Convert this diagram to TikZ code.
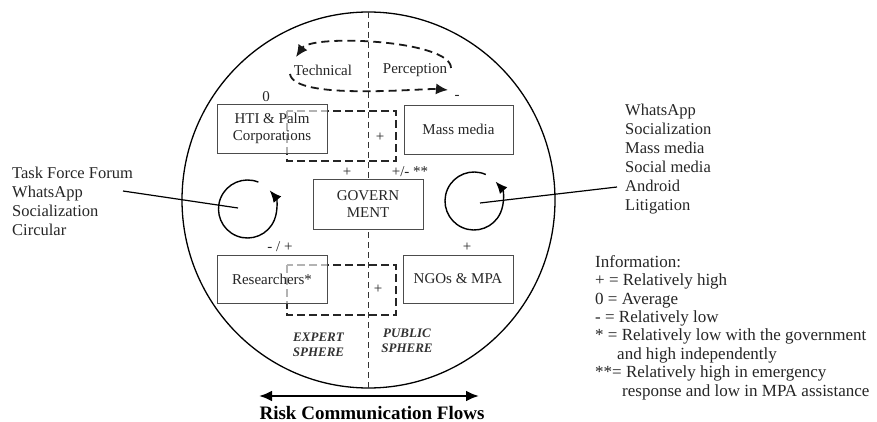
\documentclass[tikz,border=0pt]{standalone}
\usepackage{fontspec}
\setmainfont{Liberation Serif}
\usetikzlibrary{arrows.meta}
\newcommand\fsz[2]{\fontsize{#1}{#2}\selectfont}
\begin{document}
\begin{tikzpicture}[x=1pt,y=1pt,yscale=-1,
  box/.style={draw=black!70, line width=0.9pt, fill=white, minimum width=110pt, minimum height=49pt, inner sep=0pt, align=center, text=black!85, font=\fsz{15}{17}},
  ghostbox/.style={box, fill opacity=0.65, text opacity=1},
  dbox/.style={draw=black!85, line width=1.8pt, dash pattern=on 8pt off 4pt},
  midline/.style={draw=black!80, line width=1pt, dash pattern=on 6pt off 4pt},
  ecyc/.style={draw=black!90, line width=1.8pt, dash pattern=on 8pt off 5pt, -{Latex[length=12pt,width=11pt]}},
  cyc/.style={draw, line width=1.4pt, -{Latex[length=12pt,width=10pt]}},
  lbl/.style={font=\fsz{15}{17}, text=black!85, inner sep=0pt},
  side/.style={font=\fsz{16.5}{19}, align=left, inner sep=0pt, text=black!85},
  sphere/.style={font=\fsz{13}{15}\bfseries\itshape, align=center, inner sep=0pt, text=black!80},
  conn/.style={draw, line width=1.2pt},
]
\useasboundingbox (0,0) rectangle (877,422);
\fill[white] (0,0) rectangle (877,422);

% outer circle and divider
\draw[line width=1.3pt] (368.5,200) ellipse [x radius=186.5, y radius=188];
\coordinate (vt) at (368,12);
\coordinate (vb) at (368,388);
\draw[midline] (vt) -- (vb);

% technical / perception cycle
\coordinate (e1) at (451,68);
\coordinate (e2) at (296,57);
\coordinate (e3) at (290,74);
\coordinate (e4) at (448,90);
\draw[ecyc] (e1) .. controls (451,40) and (312,34) .. (e2);
\draw[ecyc] (e3) .. controls (294,101) and (425,88) .. (e4);
\node[lbl] (tech) at (323,70) {Technical};
\node[lbl] (perc) at (415,70) {Perception};

% dashed overlap rectangles
\coordinate (d1a) at (287,111);
\coordinate (d1b) at (396,161);
\coordinate (d2a) at (287,265);
\coordinate (d2b) at (396,315);
\draw[dbox] (d1a) rectangle (d1b);
\draw[dbox] (d2a) rectangle (d2b);
\node[lbl] (p1) at (380,137) {+};
\node[lbl] (p2) at (378,289) {+};

% actor boxes
\node[ghostbox] (hti) at (272,128.5) {HTI \& Palm\\Corporations};
\node[box, minimum width=109pt] (mass) at (458.5,129.5) {Mass media};
\node[box, minimum height=50pt] (gov) at (368,204) {GOVERN\\MENT};
\node[ghostbox, minimum height=48pt] (res) at (272,279) {Researchers*};
\node[box, minimum height=48pt] (ngo) at (458,279) {NGOs \& MPA};

% rating labels
\node[lbl] (l0) at (266,97) {0};
\node[lbl] (lm) at (457,97) {-};
\node[lbl] (lg1) at (347,172) {+};
\node[lbl] (lg2) at (410,172) {+/- **};
\node[lbl] (lr) at (280,247) {- / +};
\node[lbl] (ln) at (467,247) {+};

% spheres
\node[sphere] (exp) at (318.5,344.5) {EXPERT\\SPHERE};
\node[sphere] (pub) at (407,341) {PUBLIC\\SPHERE};

% rotation circles
\coordinate (lc) at (247.5,209);
\coordinate (rc) at (474,201);
\draw[cyc] (lc) ++(-68:29) arc[start angle=-68, end angle=-400, radius=29];
\draw[cyc] (rc) ++(-66:29) arc[start angle=-66, end angle=-402, radius=29];

% side texts and connectors
\node[side, anchor=west] (ltxt) at (12,201.5) {Task Force Forum\\WhatsApp\\Socialization\\Circular};
\node[side, anchor=west] (rtxt) at (625,159.5) {WhatsApp\\Socialization\\Mass media\\Social media\\Android\\Litigation};
\coordinate (ls) at (123,191);
\coordinate (le) at (238,208);
\coordinate (rs) at (480,203);
\coordinate (re) at (617,187);
\draw[conn] (ls) -- (le);
\draw[conn] (rs) -- (re);

% legend
\node[side, font=\fsz{17}{18.4}, anchor=west] (legend) at (595,327.5) {Information:\\
+ = Relatively high\\
0 = Average\\
- = Relatively low\\
* = Relatively low with the government\\
\hspace*{22pt}and high independently\\
**= Relatively high in emergency\\
\hspace*{27pt}response and low in MPA assistance};

% risk communication flows
\coordinate (al) at (259,396);
\coordinate (ar) at (479,396);
\draw[line width=2.6pt, {Latex[length=13pt,width=11pt]}-{Latex[length=13pt,width=11pt]}] (al) -- (ar);
\node[font=\fsz{19}{21}\bfseries, inner sep=0pt] (risk) at (372,413) {Risk Communication Flows};
\end{tikzpicture}
\end{document}
